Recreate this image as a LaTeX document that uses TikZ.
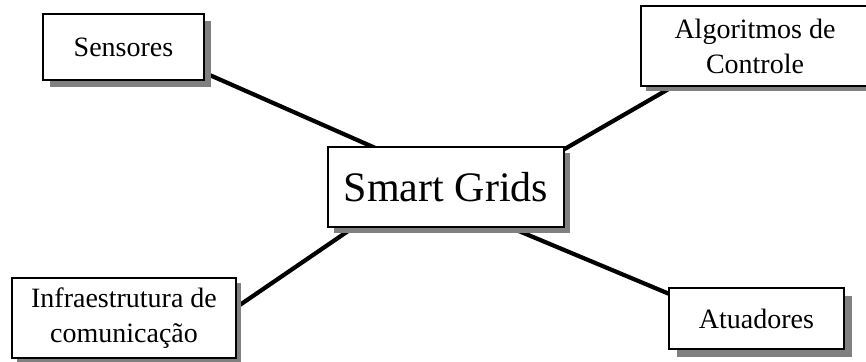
\documentclass[tikz,border=0pt]{standalone}
\usepackage{fontspec}
\setmainfont{Liberation Serif}
\usetikzlibrary{shadows,calc}
\pgfdeclarelayer{background}
\pgfsetlayers{background,main}
\definecolor{shadowgray}{RGB}{128,128,128}
\begin{document}
\begin{tikzpicture}[x=1pt,y=-1pt,
  box/.style={draw=black, line width=2pt, fill=white, inner sep=0pt, align=center,
    font=\fontsize{28}{35}\selectfont},
  shad/.style={general shadow={fill=shadowgray, shadow xshift=#1, shadow yshift=-#1}},
  link/.style={line width=4.2pt}]
\useasboundingbox (0,0) rectangle (866,361);
\node[box, shad=7pt, minimum width=161pt, minimum height=66pt] (sens) at (123.5,47) {Sensores};
\node[box, shad=5pt, minimum width=228pt, minimum height=80pt] (algo) at (755,46) {Algoritmos de\\Controle};
\node[box, shad=6pt, minimum width=236pt, minimum height=80pt, font=\fontsize{42}{50}\selectfont] (smart) at (446,187) {Smart Grids};
\node[box, shad=5pt, minimum width=224pt, minimum height=80pt] (infra) at (124,318) {Infraestrutura de\\comunicação};
\node[box, shad=8pt, minimum width=175pt, minimum height=61pt] (atu) at (756.5,318.5) {Atuadores};
\begin{pgfonlayer}{background}
\draw[link] ($(sens.south east)+(-9,-12)$) -- ($(smart.north west)+(62,8)$);
\draw[link] ($(smart.north east)+(-9,8)$) -- ($(algo.south west)+(39,-4)$);
\draw[link] ($(infra.north east)+(-6,34)$) -- ($(smart.south west)+(32,-4.4)$);
\draw[link] ($(smart.south east)+(-63,-4)$) -- ($(atu.north west)+(11,11)$);
\end{pgfonlayer}
\end{tikzpicture}
\end{document}
